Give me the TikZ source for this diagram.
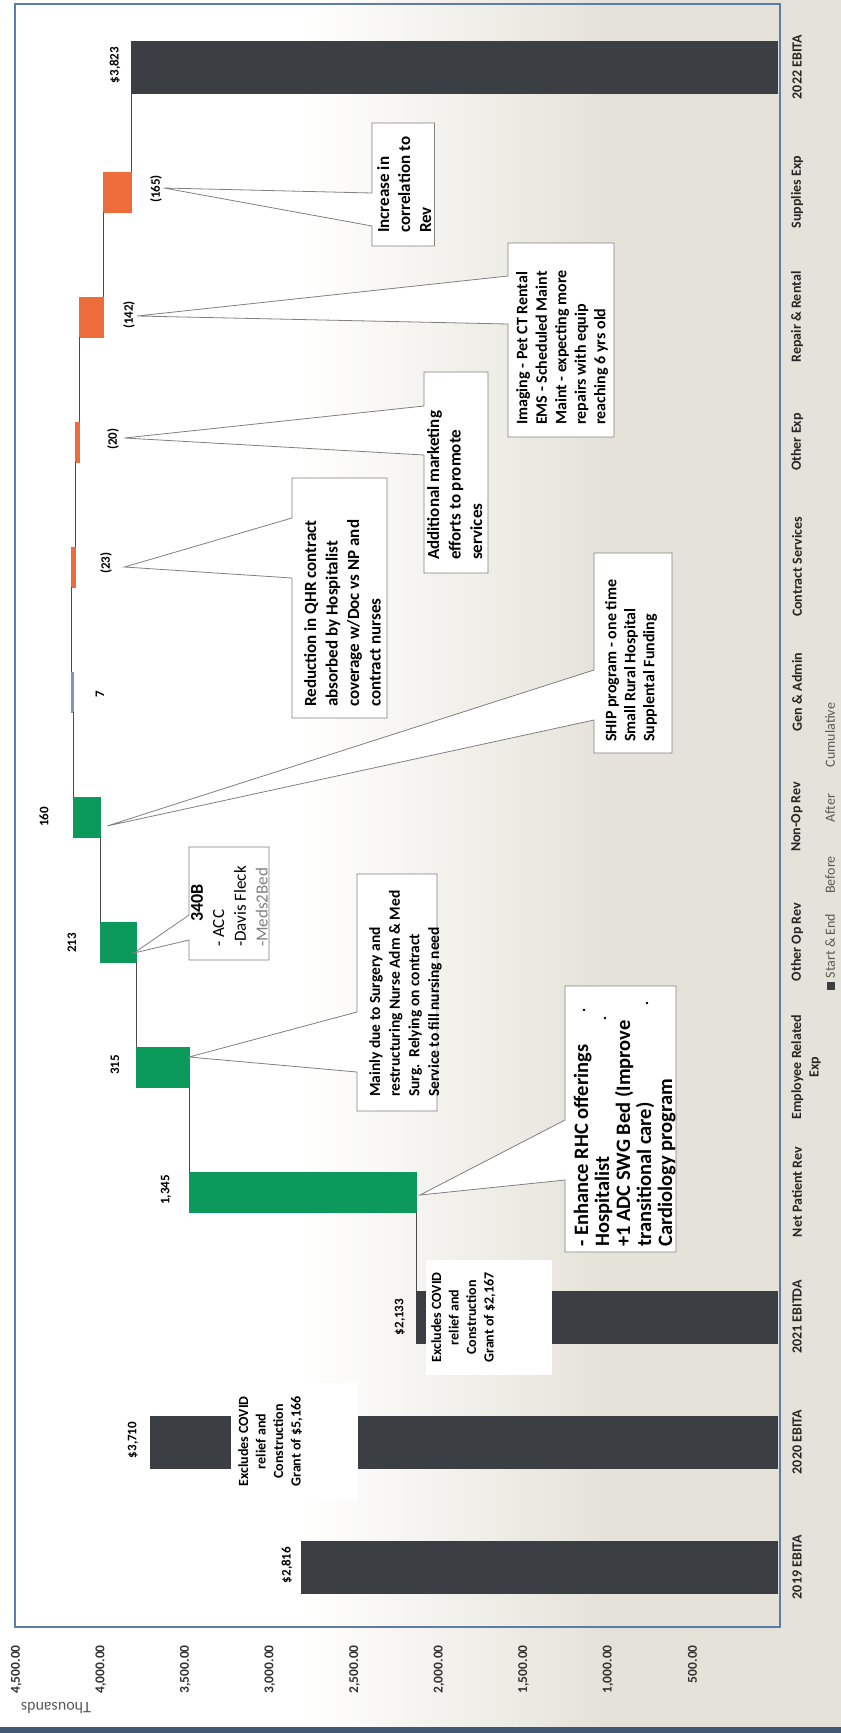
\documentclass[tikz,border=0pt]{standalone}
\usepackage{fontspec}
\setmainfont{Carlito}
\usetikzlibrary{positioning}

\definecolor{startend}{HTML}{3B3E42}
\definecolor{gaingreen}{HTML}{0B9A5B}
\definecolor{lossorange}{HTML}{EE6B3B}
\definecolor{smallblue}{HTML}{7F98B8}
\definecolor{frameblue}{HTML}{5B7DA7}
\definecolor{paperbeige}{HTML}{E5E3D9}
\definecolor{boxgray}{HTML}{808080}
\definecolor{textgray}{HTML}{595959}

\tikzset{
  vallabel/.style={rotate=90, inner sep=0pt, font=\bfseries\fontsize{13}{13}\selectfont},
  catlabel/.style={rotate=90, inner sep=0pt, align=center, text=black!85, font=\bfseries\fontsize{14}{17.5}\selectfont},
  axlabel/.style={rotate=90, anchor=east, inner sep=0pt, text=black!80, font=\bfseries\fontsize{13.5}{13.5}\selectfont},
  legtext/.style={rotate=90, inner sep=0pt, text=textgray, font=\fontsize{14}{14}\selectfont},
  callout/.style={fill=white, draw=boxgray, line width=0.8pt},
  notetext/.style={rotate=90, anchor=north west, align=left, inner sep=0pt},
  covidtext/.style={rotate=90, anchor=north, align=center, inner sep=0pt, font=\bfseries\fontsize{14}{17.5}\selectfont},
  steplink/.style={draw=black!70, line width=0.6pt}
}

\begin{document}
\begin{tikzpicture}[x=1pt, y=-1pt]
  \useasboundingbox (0,0) rectangle (841,1733);

  % Paper background
  \fill[white] (0,0) rectangle (841,1733);
  \shade[left color=white, right color=paperbeige] (300,0) rectangle (600,1733);
  \fill[paperbeige] (600,0) rectangle (841,1733);

  % Chart frame
  \draw[frameblue, line width=1.5pt] (15,4) rectangle (780,1627);
  \fill[frameblue!70!black] (0,1727) rectangle (841,1733);

  % Bars: index/low/high/colour/half width
  \foreach \i/\lo/\hi/\col/\hw in {0/0/2816/startend/26, 1/0/3710/startend/26, 2/0/2133/startend/26,
      3/2133/3478/gaingreen/20, 4/3478/3793/gaingreen/20, 5/3793/4006/gaingreen/20, 6/4006/4166/gaingreen/20,
      7/4166/4173/smallblue/20, 8/4173/4150/lossorange/20, 9/4150/4130/lossorange/20,
      10/4130/3988/lossorange/20, 11/3988/3823/lossorange/20, 12/0/3823/startend/26} {
    \filldraw[\col, line width=0.6pt] ({777-0.169*\lo}, {1567-125*\i-\hw}) rectangle ({777-0.169*\hi}, {1567-125*\i+\hw});
  }

  % Step lines between bars
  \foreach \i/\c/\ha/\hb in {2/2133/26/20, 3/3478/20/20, 4/3793/20/20, 5/4006/20/20, 6/4166/20/20,
      7/4173/20/20, 8/4150/20/20, 9/4130/20/20, 10/3988/20/20, 11/3823/20/26} {
    \draw[steplink] ({777-0.169*\c}, {1567-125*\i-\ha}) -- ({777-0.169*\c}, {1567-125*(\i+1)+\hb});
  }

  % Covid notes over the 2020 and 2021 bars
  \fill[white] (231,1383) rectangle (358,1500);
  \node[covidtext] (covid20) at (238,1441.5) {Excludes COVID\\relief and\\Construction\\Grant of \$5,166};
  \fill[white] (426,1260) rectangle (552,1375);
  \node[covidtext] (covid21) at (431,1317.5) {Excludes COVID\\relief and\\Construction\\Grant of \$2,167};

  % Data labels
  \foreach \i/\x/\y/\t in {0/287/1565/{\$2,816}, 1/133/1440/{\$3,710}, 2/400/1317/{\$2,133}, 3/166/1190/{1,345},
      4/115/1065/315, 5/72/943/213, 6/44/817/160, 7/100/694/7, 8/106/563/(23), 9/113/439/(20),
      10/129/315/(142), 11/156/189/(165), 12/115/65/{\$3,823}} {
    \node[vallabel] (val\i) at (\x,\y) {\t};
  }

  % Category axis
  \foreach \i/\t in {0/2019 EBITA, 1/2020 EBITA, 2/2021 EBITDA, 3/Net Patient Rev, 5/Other Op Rev,
      6/Non-Op Rev, 7/Gen \& Admin, 8/Contract Services, 9/Other Exp, 10/Repair \& Rental,
      11/Supplies Exp, 12/2022 EBITA} {
    \node[catlabel] (cat\i) at (797, {1567-125*\i}) {\t};
  }
  \node[catlabel] (cat4) at (806,1067) {Employee Related\\Exp};

  % Value axis
  \foreach \v/\t in {500/500.00, 1000/{1,000.00}, 1500/{1,500.00}, 2000/{2,000.00}, 2500/{2,500.00},
      3000/{3,000.00}, 3500/{3,500.00}, 4000/{4,000.00}, 4500/{4,500.00}} {
    \node[axlabel] (axis\v) at ({777-0.169*\v}, 1645) {\t};
  }
  \node[rotate=180, inner sep=0pt, text=textgray, font=\fontsize{16}{16}\selectfont] (units) at (56,1708) {Thousands};

  % Legend
  \node[fill=startend, minimum size=8pt, inner sep=0pt] (legsq) at (831,986) {};
  \node[legtext] (legstart) at (830,946) {Start \& End};
  \node[legtext] (legbefore) at (830,875) {Before};
  \node[legtext] (legafter) at (830,808) {After};
  \node[legtext] (legcum) at (830,735) {Cumulative};

  % Callouts
  \coordinate (tipsupplies) at (164,188);
  \draw[callout] (372,123) -- (434.5,123) -- (434.5,246) -- (372,246) -- (372,226) -- (tipsupplies) -- (372,193) -- cycle;
  \node[notetext, font=\bfseries\fontsize{17}{21}\selectfont] (notesupplies) at (377,233) {Increase in\\correlation to\\Rev};

  \coordinate (tiprepair) at (137,316);
  \draw[callout] (508,243) -- (614,243) -- (614,437) -- (508,437) -- (508,324) -- (tiprepair) -- (508,276) -- cycle;
  \node[notetext, font=\bfseries\fontsize{16}{19.5}\selectfont] (noterepair) at (516,425) {Imaging - Pet CT Rental\\EMS - Scheduled Maint\\Maint - expecting more\\repairs with equip\\reaching 6 yrs old};

  \coordinate (tipother) at (124.5,438);
  \draw[callout] (424,372) -- (488,372) -- (488,573) -- (424,573) -- (424,455) -- (tipother) -- (424,406) -- cycle;
  \node[notetext, font=\bfseries\fontsize{17}{21.5}\selectfont] (noteother) at (427,560) {Additional marketing\\efforts to promote\\services};

  \coordinate (tipcontract) at (124.5,567);
  \draw[callout] (292,478) -- (387,478) -- (387,718) -- (292,718) -- (292,578) -- (tipcontract) -- (292,518) -- cycle;
  \node[notetext, font=\bfseries\fontsize{17}{21.5}\selectfont] (notecontract) at (304,707) {Reduction in QHR contract\\absorbed by Hospitalist\\coverage w/Doc vs NP and\\contract nurses};

  \coordinate (tipnonop) at (107,826);
  \draw[callout] (594,553) -- (672,553) -- (672,753) -- (594,753) -- (594,720) -- (tipnonop) -- (594,670) -- cycle;
  \node[notetext, font=\bfseries\fontsize{16}{19}\selectfont] (notenonop) at (605,742) {SHIP program - one time\\Small Rural Hospital\\Supplental Funding};

  \coordinate (tipotherop) at (134,953);
  \draw[callout] (189,847) -- (269,847) -- (269,960) -- (189,960) -- (189,940) -- (tipotherop) -- (189,915) -- cycle;
  \node[rotate=90, inner sep=0pt, font=\bfseries\fontsize{18}{18}\selectfont] (noteotheroptitle) at (197,903) {340B};
  \node[notetext, font=\fontsize{17}{21.7}\selectfont] (noteotherop) at (213,947) {- ACC\\-Davis Fleck\\\textcolor{gray}{-Meds2Bed}};

  \coordinate (tipemployee) at (189,1057);
  \draw[callout] (357,874) -- (437,874) -- (437,1111) -- (357,1111) -- (357,1072) -- (tipemployee) -- (357,1012) -- cycle;
  \node[notetext, font=\bfseries\fontsize{15.5}{19.7}\selectfont] (noteemployee) at (369,1097) {Mainly due to Surgery and\\restructuring Nurse Adm \& Med\\Surg.\ \ Relying on contract\\Service to fill nursing need};

  \coordinate (tipnetpat) at (420,1195);
  \draw[callout] (565,986) -- (676,986) -- (676,1252) -- (565,1252) -- (565,1180) -- (tipnetpat) -- (565,1120) -- cycle;
  \node[notetext, font=\bfseries\fontsize{20.5}{21}\selectfont] (notenetpat) at (573.5,1247) {- Enhance RHC offerings\\Hospitalist\\+1 ADC SWG Bed (Improve\\transitional care)\\Cardiology program};
  \foreach \x/\y in {584/1010, 605/1018, 647/1003} {
    \fill (\x,\y) circle (1.3pt);
  }
\end{tikzpicture}
\end{document}
